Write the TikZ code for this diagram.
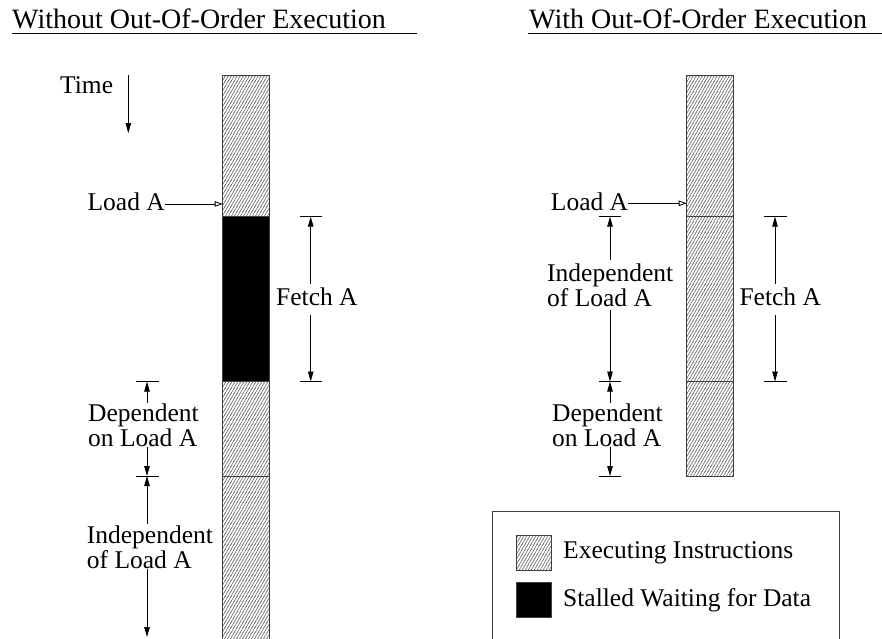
\documentclass[tikz,border=0pt]{standalone}
\usepackage{fontspec}
\setmainfont{Liberation Serif}
\usetikzlibrary{arrows.meta,patterns}

% steep right-diagonal hatching used for executing instructions
\pgfdeclarepatternformonly{steephatch}{\pgfqpoint{-0.5pt}{-0.5pt}}{\pgfqpoint{3.6pt}{5.7pt}}{\pgfqpoint{3pt}{5.2pt}}{%
  \pgfsetlinewidth{0.5pt}%
  \pgfpathmoveto{\pgfqpoint{-0.3pt}{-0.52pt}}%
  \pgfpathlineto{\pgfqpoint{3.3pt}{5.72pt}}%
  \pgfusepath{stroke}}

\tikzset{
  titletext/.style={font=\fontsize{28}{30}\selectfont, inner sep=0pt, anchor=base west},
  lbl/.style={font=\fontsize{25.5}{24.3}\selectfont, inner xsep=0pt, inner ysep=1pt, align=left},
  rule/.style={line width=0.9pt},
  seg/.style={draw=black!75, line width=0.9pt, inner sep=0pt, outer sep=0pt,
    minimum width=47pt, anchor=north west},
  hatchbox/.style={seg, pattern=steephatch, pattern color=black!65},
  stallbox/.style={seg, fill=black},
  tick/.style={line width=0.8pt},
  dim/.style={line width=0.8pt, -{Triangle[length=10pt,width=5.5pt]}},
  pointer/.style={line width=0.8pt, -{Triangle[open,length=8pt,width=5.5pt]}},
}

\begin{document}
\begin{tikzpicture}[x=1pt,y=-1pt]
\useasboundingbox (0,0) rectangle (882,638);
\clip (0,0) rectangle (882,638);

% ---------- headings ----------
\node[titletext] (headL) at (12,28.3) {Without Out-Of-Order Execution};
\draw[rule] (12,33.3) -- (416.7,33.3);
\node[titletext] (headR) at (529,28.3) {With Out-Of-Order Execution};
\draw[rule] (528,33.3) -- (882,33.3);

% ---------- time axis ----------
\node[lbl, inner sep=0pt, anchor=base west] (time) at (60,93.3) {Time};
\coordinate (timeA) at (128.3,75);
\coordinate (timeB) at (128.3,133);
\draw[dim] (timeA) -- (timeB);

% ---------- in-order pipeline ----------
\node[hatchbox, minimum height=141.7pt] (L1) at (222.7,75) {};
\node[stallbox, minimum height=164.8pt] (L2) at (222.7,216.7) {};
\node[hatchbox, minimum height=94.5pt] (L3) at (222.7,381.5) {};
\node[hatchbox, minimum height=180pt] (L4) at (222.7,476) {};

\node[lbl, inner sep=0pt, anchor=base east] (loadL) at (165,210.7) {Load A};
\draw[pointer] ([yshift=-2pt]loadL.east) -- ([yshift=-2pt]L1.west |- loadL.east);

% Fetch A span
\coordinate (fLt) at (310.7,216.7);
\coordinate (fLb) at (310.7,381.5);
\draw[tick] (300,216.7) -- (322,216.7);
\draw[tick] (300,381.5) -- (322,381.5);
\node[lbl, anchor=base west, inner ysep=3pt] (fetchL) at (276,305) {Fetch A\strut};
\draw[dim] (fetchL.north -| fLt) -- (fLt);
\draw[dim] (fetchL.south -| fLb) -- (fLb);

% dependent span (node base sits on the last line)
\coordinate (dLt) at (147,381.5);
\coordinate (dLb) at (147,476);
\draw[tick] (135.5,381.5) -- (158.5,381.5);
\draw[tick] (135.5,476) -- (158.5,476);
\node[lbl, anchor=base west] (depL) at (88,446) {Dependent\\on Load A};
\draw[dim] (depL.north -| dLt) -- (dLt);
\draw[dim] (depL.south -| dLb) -- (dLb);

% independent span
\coordinate (iLt) at (147,476);
\coordinate (iLb) at (147,637);
\node[lbl, anchor=base west, font=\fontsize{25.5}{25}\selectfont] (indL) at (86.7,568) {Independent\\of Load A};
\draw[dim] (indL.north -| iLt) -- (iLt);
\draw[dim] (indL.south -| iLb) -- (iLb);

% ---------- out-of-order pipeline ----------
\node[hatchbox, minimum height=141.7pt] (R1) at (686.7,75) {};
\node[hatchbox, minimum height=164.8pt] (R2) at (686.7,216.7) {};
\node[hatchbox, minimum height=94.5pt] (R3) at (686.7,381.5) {};

\node[lbl, inner sep=0pt, anchor=base east] (loadR) at (628.3,210) {Load A};
\draw[pointer] ([yshift=-2pt]loadR.east) -- ([yshift=-2pt]R1.west |- loadR.east);

% Fetch A span
\coordinate (fRt) at (775,216.7);
\coordinate (fRb) at (775,381.5);
\draw[tick] (763.5,216.7) -- (786.5,216.7);
\draw[tick] (763.5,381.5) -- (786.5,381.5);
\node[lbl, anchor=base west, inner ysep=3pt] (fetchR) at (739.3,305) {Fetch A\strut};
\draw[dim] (fetchR.north -| fRt) -- (fRt);
\draw[dim] (fetchR.south -| fRb) -- (fRb);

% independent span
\coordinate (iRt) at (610,216.7);
\coordinate (iRb) at (610,381.5);
\draw[tick] (599,216.7) -- (621,216.7);
\draw[tick] (599,381.5) -- (621,381.5);
\node[lbl, anchor=base west, font=\fontsize{25.5}{19.5}\selectfont, inner ysep=4pt] (indR) at (547,306) {Independent\\of Load A};
\draw[dim] (indR.north -| iRt) -- (iRt);
\draw[dim] (indR.south -| iRb) -- (iRb);

% dependent span
\coordinate (dRt) at (610,381.5);
\coordinate (dRb) at (610,476);
\draw[tick] (599,476) -- (621,476);
\node[lbl, anchor=base west] (depR) at (552,446) {Dependent\\on Load A};
\draw[dim] (depR.north -| dRt) -- (dRt);
\draw[dim] (depR.south -| dRb) -- (dRb);

% ---------- legend ----------
\draw[draw=black!75, line width=0.9pt] (492.7,511.7) rectangle (839.3,660);
\node[seg, pattern=steephatch, pattern color=black!65, minimum width=35.7pt, minimum height=35.7pt] (keyExec) at (516,535) {};
\node[seg, fill=black, minimum width=35.7pt, minimum height=35.7pt] (keyStall) at (516,582) {};
\node[lbl, inner sep=0pt, anchor=base west] (txtExec) at (563,558.3) {Executing Instructions};
\node[lbl, inner sep=0pt, anchor=base west] (txtStall) at (563,606) {Stalled Waiting for Data};
\end{tikzpicture}
\end{document}
